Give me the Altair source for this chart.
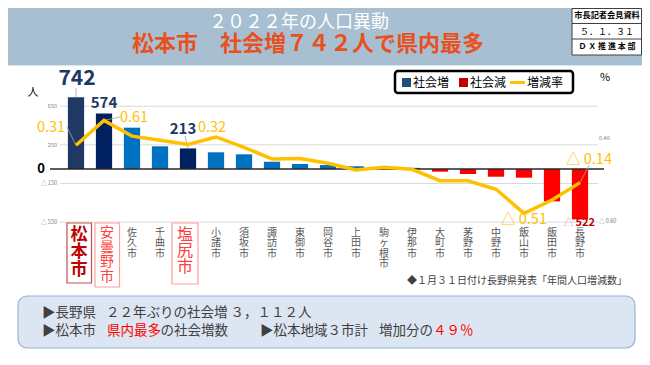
import altair as alt
import pandas as pd

FONT = "Noto Sans CJK JP"

# ---------------- data ----------------
cities = ["松本市", "安曇野市", "佐久市", "千曲市", "塩尻市", "小諸市", "須坂市", "諏訪市",
          "東御市", "岡谷市", "上田市", "駒ヶ根市", "伊那市", "大町市", "茅野市", "中野市",
          "飯山市", "飯田市", "長野市"]
social = [742, 574, 428, 235, 213, 173, 152, 76, 52, 41, 28, 10, 12, -28, -52, -80, -90, -335, -522]
rate = [0.31, 0.61, 0.42, 0.37, 0.32, 0.41, 0.285, 0.145, 0.15, 0.093, 0.012, 0.045, 0.02,
        -0.117, -0.117, -0.22, -0.51, -0.35, -0.14]
bar_colors = ["#1f3864", "#002060", "#0070c0", "#0070c0", "#002060"] + ["#0070c0"] * 8 + ["#ff0000"] * 6

left_ticks = [650, 250, -150, -550]
left_tick_labels = ["650", "250", "△ 150", "△ 550"]
right_ticks = [0.40, -0.60]
right_tick_labels = ["0.40", "△ 0.60"]

special = ["松本市", "安曇野市", "塩尻市"]

# ---------------- geometry helpers ----------------
OX, OY = 8, 8


def px(x):
    return x - OX


def py(y):
    return y - OY


df = pd.DataFrame({"city": cities, "social": social, "rate": rate, "color": bar_colors,
                   "vname": ["\n".join(c) for c in cities]})
lt = pd.DataFrame({"v": left_ticks, "lab": left_tick_labels})
rt = pd.DataFrame({"v": right_ticks, "lab": right_tick_labels})
one = alt.Data(values=[{"k": 0}])

K = 0.0966
Z = py(169)
ys = alt.Scale(domain=[-550, 1050], range=[Z + 550 * K, Z - 1050 * K], nice=False, zero=False)
K2 = 83
Z2 = py(171)
ys2 = alt.Scale(domain=[-0.6, 1.2], range=[Z2 + 0.6 * K2, Z2 - 1.2 * K2], nice=False, zero=False)
xs = alt.Scale(domain=cities, range=[px(62), px(594)], paddingInner=0.42, paddingOuter=0.21)
X = alt.X("city:N", scale=xs, axis=None)
Y = alt.Y("social:Q", scale=ys, axis=None)
Y2 = alt.Y("rate:Q", scale=ys2, axis=None)


def txt(s, x, y, size, color, weight="normal", align="left", baseline="middle"):
    return alt.Chart(one).mark_text(text=s, fontSize=size, color=color, fontWeight=weight,
                                    align=align, baseline=baseline, font=FONT).encode(
        x=alt.value(x), y=alt.value(y))


def box(x1, y1, x2, y2, fill, stroke="#ffffff", sw=0, r=0, fo=1):
    return alt.Chart(one).mark_rect(fill=fill, fillOpacity=fo, stroke=stroke, strokeWidth=sw,
                                    cornerRadius=r).encode(
        x=alt.value(x1), x2=alt.value(x2), y=alt.value(y1), y2=alt.value(y2))


def hline(x1, x2, y, color, sw=1):
    return alt.Chart(one).mark_rule(color=color, strokeWidth=sw).encode(
        x=alt.value(x1), x2=alt.value(x2), y=alt.value(y))


layers = []

# ---------------- header ----------------
layers.append(box(0, 0, 634, py(65), "#a7bfd0"))
layers.append(hline(0, 634, py(65.5), "#d6e7ef", 1))
layers.append(txt("２０２２年の人口異動", px(299), py(23), 18, "#ffffff", align="center"))
layers.append(txt("松本市　社会増７４２人で県内最多", px(308), py(44), 22, "#e8501e", weight="bold",
                  align="center"))
layers.append(box(px(572), 0.5, 633.5, py(55), "#ffffff", "#404040", 1))
layers.append(hline(px(572), 633.5, py(23.5), "#404040", 1))
layers.append(hline(px(572), 633.5, py(39), "#404040", 1))
layers.append(txt("市長記者会見資料", px(607), py(16), 8.2, "#000000", weight="bold", align="center"))
layers.append(txt("５．１．３１", px(607), py(31.5), 9, "#000000", align="center"))
layers.append(txt("Ｄ Ｘ 推 進 本 部", px(607), py(47), 8, "#000000", weight="bold", align="center"))

# ---------------- grid & axes ----------------
layers.append(alt.Chart(lt).mark_rule(color="#d9d9d9", strokeWidth=1).encode(
    y=alt.Y("v:Q", scale=ys, axis=None), x=alt.value(px(60)), x2=alt.value(px(598))))
layers.append(alt.Chart(lt).mark_text(align="right", baseline="middle", fontSize=5.5,
                                      color="#7f7f7f", font=FONT).encode(
    y=alt.Y("v:Q", scale=ys, axis=None), x=alt.value(px(57)), text="lab:N"))
layers.append(alt.Chart(rt).mark_text(align="left", baseline="middle", fontSize=5.5,
                                      color="#7f7f7f", font=FONT).encode(
    y=alt.Y("v:Q", scale=ys2, axis=None), x=alt.value(px(599)), text="lab:N"))
layers.append(txt("0", px(41), py(169), 13, "#000000", weight="bold", align="center"))
layers.append(txt("人", px(33), py(93), 11, "#000000", align="center"))
layers.append(txt("%", px(605), py(78), 11, "#000000", align="center"))

# ---------------- bars ----------------
layers.append(alt.Chart(df).mark_bar().encode(
    x=X, y=Y, color=alt.Color("color:N", scale=None)))
# zero line
layers.append(alt.Chart(pd.DataFrame({"v": [0]})).mark_rule(color="#262626", strokeWidth=1.5).encode(
    y=alt.Y("v:Q", scale=ys, axis=None), x=alt.value(px(50)), x2=alt.value(px(604))))

# leaders
layers.append(alt.Chart(df).transform_filter(alt.datum.city == "松本市").mark_rule(
    color="#a6a6a6", strokeWidth=0.8).encode(x=X, y=Y, y2=alt.value(py(88))))
layers.append(alt.Chart(df).transform_filter(alt.datum.city == "塩尻市").mark_rule(
    color="#a6a6a6", strokeWidth=0.8).encode(x=X, y=Y, x2=alt.value(px(185)), y2=alt.value(py(136))))
layers.append(alt.Chart(df).transform_filter(alt.datum.city == "松本市").mark_rule(
    color="#a6a6a6", strokeWidth=0.8).encode(x=X, y=Y2, x2=alt.value(px(67)), y2=alt.value(py(127))))
layers.append(alt.Chart(df).transform_filter(alt.datum.city == "安曇野市").mark_rule(
    color="#a6a6a6", strokeWidth=0.8).encode(x=X, y=Y2, x2=alt.value(px(120)), y2=alt.value(py(117))))
layers.append(alt.Chart(df).transform_filter(alt.datum.city == "長野市").mark_rule(
    color="#a6a6a6", strokeWidth=0.8).encode(x=X, y=Y2, x2=alt.value(px(589)), y2=alt.value(py(165))))

# line
layers.append(alt.Chart(df).mark_line(color="#ffc000", strokeWidth=3.5, strokeJoin="miter").encode(
    x=X, y=Y2))


def lab(city, s, field, dx, dy, size, color, weight="normal", align="center"):
    yy = Y if field == "social" else Y2
    return alt.Chart(df).transform_filter(alt.datum.city == city).mark_text(
        text=s, dx=dx, dy=dy, fontSize=size, color=color, fontWeight=weight, align=align,
        baseline="middle", font=FONT).encode(x=X, y=yy)


# bar value labels
layers.append(lab("松本市", "742", "social", 1, -18, 21, "#1f3864", "bold"))
layers.append(lab("安曇野市", "574", "social", 0, -10.5, 15, "#1f3864", "bold"))
layers.append(lab("塩尻市", "213", "social", -5, -19, 15, "#1f3864", "bold"))
layers.append(lab("長野市", "△", "social", -6.5, 4, 10, "#f4a0a0", align="right"))
layers.append(lab("長野市", "522", "social", -4.5, 4, 11, "#c00000", "bold", align="left"))
# rate labels
layers.append(lab("松本市", "0.31", "rate", -25, -17.5, 14.5, "#ffc000"))
layers.append(lab("安曇野市", "0.61", "rate", 30, -2.5, 14.5, "#ffc000"))
layers.append(lab("塩尻市", "0.32", "rate", 24, -16, 14.5, "#ffc000"))
layers.append(lab("長野市", "△ 0.14", "rate", 9, -22.5, 14.5, "#ffc000"))
layers.append(lab("飯山市", "△ 0.51", "rate", 0, 7, 14.5, "#ffc000"))

# ---------------- legend ----------------
layers.append(box(px(395), py(71), px(573), py(93), "#ffffff", "#000000", 2.5, 3))
layers.append(box(px(402), py(78), px(411), py(87), "#1f4e79"))
layers.append(txt("社会増", px(413), py(82.5), 12, "#000000"))
layers.append(box(px(459), py(78), px(468), py(87), "#c00000"))
layers.append(txt("社会減", px(470), py(82.5), 12, "#000000"))
layers.append(hline(px(510), px(525), py(82.5), "#ffc000", 3))
layers.append(txt("増減率", px(527), py(82.5), 12, "#000000"))

# ---------------- city names ----------------
layers.append(box(px(67), py(223), px(91.5), py(283), "#ffffff", "#c0504d", 1.2, 0, 0))
layers.append(box(px(95), py(223), px(119.5), py(287), "#ffffff", "#ff9f9f", 1.2, 0, 0))
layers.append(box(px(172), py(223), px(198), py(284), "#ffffff", "#ff9f9f", 1.2, 0, 0))

normal = alt.FieldOneOfPredicate(field="city", oneOf=special)
layers.append(alt.Chart(df).transform_filter(~normal).mark_text(
    lineBreak="\n", lineHeight=10.3, fontSize=10, baseline="top", color="#595959", font=FONT).encode(
    x=X, y=alt.value(py(228)), text="vname:N"))
layers.append(alt.Chart(df).transform_filter(alt.datum.city == "松本市").mark_text(
    lineBreak="\n", lineHeight=17.5, fontSize=17, baseline="top", color="#c00000", dx=3,
    fontWeight="bold", font=FONT).encode(x=X, y=alt.value(py(226.5)), text="vname:N"))
layers.append(alt.Chart(df).transform_filter(alt.datum.city == "安曇野市").mark_text(
    lineBreak="\n", lineHeight=14.5, fontSize=14, baseline="top", color="#ff4040", dx=3,
    font=FONT).encode(x=X, y=alt.value(py(226)), text="vname:N"))
layers.append(alt.Chart(df).transform_filter(alt.datum.city == "塩尻市").mark_text(
    lineBreak="\n", lineHeight=16, fontSize=16, baseline="top", color="#ff4040", dx=-3,
    font=FONT).encode(x=X, y=alt.value(py(227)), text="vname:N"))

layers.append(txt("◆１月３１日付け長野県発表「年間人口増減数」", px(407), py(280.5), 10, "#404040"))

# ---------------- bottom box ----------------
layers.append(box(px(18), py(296), px(635), py(348), "#dce6f2", "#95b3d7", 1.2, 9))
layers.append(txt("▶長野県", px(42), py(312.5), 13.5, "#404040"))
layers.append(txt("２２年ぶりの社会増 ３，１１２人", px(106), py(312.5), 13.5, "#404040"))
layers.append(txt("▶松本市", px(42), py(331), 13.5, "#404040"))
layers.append(txt("県内最多", px(107), py(331), 13.5, "#ff0000"))
layers.append(txt("の社会増数", px(160.5), py(331), 13.5, "#404040"))
layers.append(txt("▶松本地域３市計", px(260), py(331), 13.5, "#404040"))
layers.append(txt("増加分の", px(379), py(331), 13.5, "#404040"))
layers.append(txt("４９％", px(433), py(331), 13.5, "#ff0000"))

chart = alt.layer(*layers).resolve_scale(y="independent").properties(
    width=634, height=349, padding=0, autosize=alt.AutoSizeParams(type="none"),
    background="#ffffff"
).configure_view(stroke=None)

chart.save("out.html", embed_options={"renderer": "svg", "actions": False})
